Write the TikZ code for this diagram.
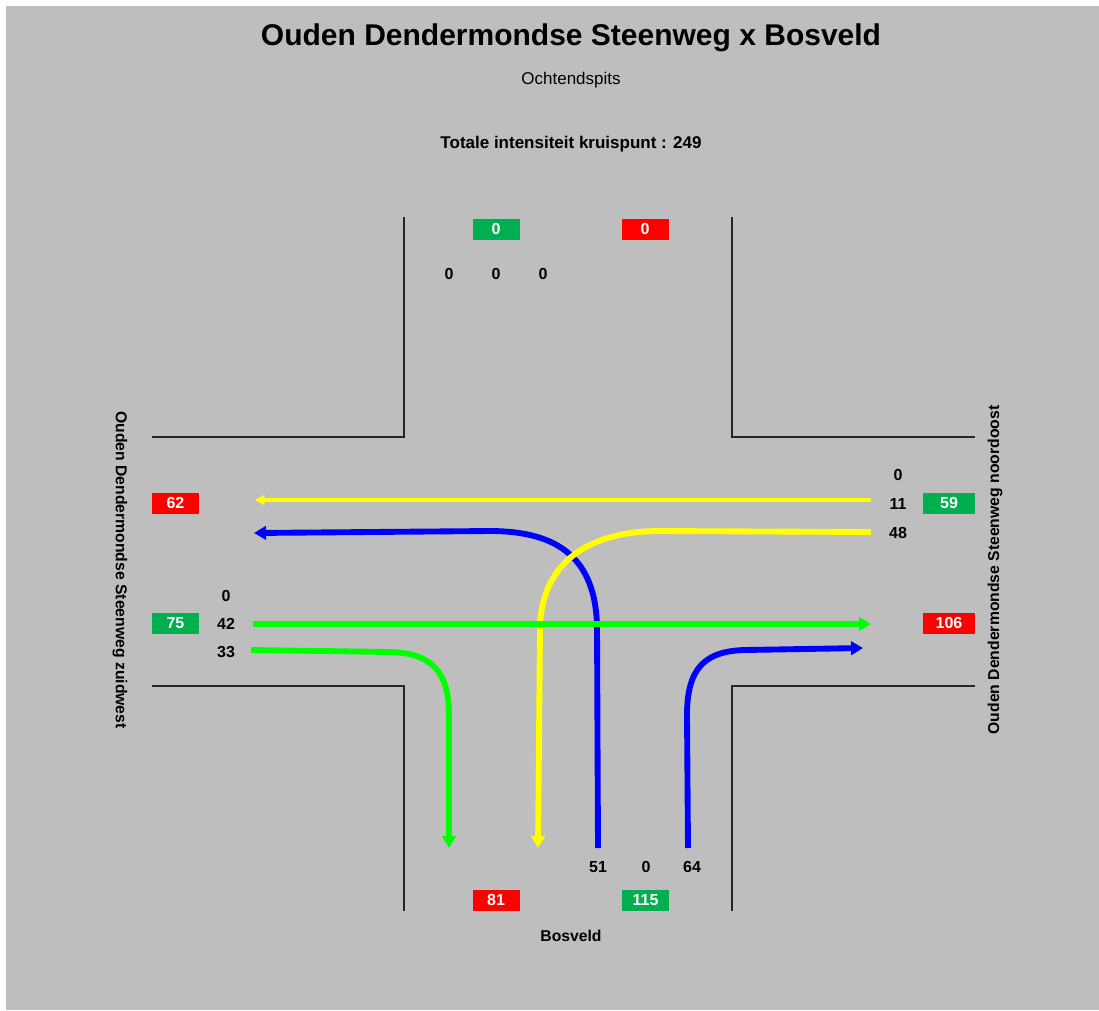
\documentclass[tikz,border=0pt]{standalone}
\usepackage{fontspec}
\setmainfont{Liberation Sans}
\usetikzlibrary{arrows.meta}
\definecolor{bg}{HTML}{BEBEBE}
\definecolor{boxgreen}{HTML}{00B050}
\definecolor{boxred}{HTML}{FF0000}
\definecolor{ayellow}{HTML}{FFFF00}
\definecolor{ablue}{HTML}{0000FF}
\definecolor{agreen}{HTML}{00FF00}
\tikzset{
  road/.style={draw=black!85, line width=1.1pt},
  flow/.style={line width=4.4pt, -{Triangle[length=9pt,width=10pt]}},
  thinflow/.style={line width=3.2pt, -{Triangle[length=7pt,width=7.5pt]}},
  num/.style={font=\fontsize{12}{14}\selectfont\bfseries, inner sep=0pt},
  lbl/.style={font=\fontsize{11.8}{14}\selectfont\bfseries, inner sep=0pt},
  cbox/.style={font=\fontsize{12}{14}\selectfont\bfseries, text=white, inner sep=0pt, minimum width=35.25pt, minimum height=15.75pt},
  gbox/.style={cbox, fill=boxgreen},
  rbox/.style={cbox, fill=boxred},
}
\begin{document}
\begin{tikzpicture}[x=0.75pt,y=-0.75pt]
\useasboundingbox (0,0) rectangle (1099,1010);
\fill[white] (0,0) rectangle (1099,1010);
\fill[bg] (6,6) rectangle (1099,1010);

% titles
\node[font=\fontsize{22.5}{26}\selectfont\bfseries, inner sep=0pt] (title) at (571,38) {Ouden Dendermondse Steenweg x Bosveld};
\node[font=\fontsize{12.75}{15}\selectfont, inner sep=0pt] (sub) at (571,80) {Ochtendspits};
\node[font=\fontsize{12.75}{15}\selectfont\bfseries, inner sep=0pt] (tot) at (571,144) {Totale intensiteit kruispunt : 249};

% road edges
\draw[road] (404,217) -- (404,437) -- (152,437);
\draw[road] (732,217) -- (732,437) -- (975,437);
\draw[road] (152,686) -- (404,686) -- (404,911);
\draw[road] (975,686) -- (732,686) -- (732,911);

% top
\node[gbox] (tg) at (496,229) {0};
\node[rbox] (tr) at (645,229) {0};
\node[num] (t1) at (449,274) {0};
\node[num] (t2) at (496,274) {0};
\node[num] (t3) at (543,274) {0};

% right
\node[num] (r1) at (898,475) {0};
\node[num] (r2) at (898,504) {11};
\node[num] (r3) at (898,533) {48};
\node[gbox, minimum width=39pt] (rg) at (949,503) {59};
\node[rbox, minimum width=39pt] (rr) at (949,623) {106};
\node[lbl, rotate=90] (rlab) at (995,570) {Ouden Dendermondse Steenweg noordoost};

% left
\node[rbox] (lr) at (175.5,503) {62};
\node[gbox] (lg) at (175.5,623) {75};
\node[num] (l1) at (226,596) {0};
\node[num] (l2) at (226,624) {42};
\node[num] (l3) at (226,652) {33};
\node[lbl, rotate=-90] (llab) at (120,570) {Ouden Dendermondse Steenweg zuidwest};

% bottom
\node[num] (b1) at (598,867) {51};
\node[num] (b2) at (646,867) {0};
\node[num] (b3) at (692,867) {64};
\node[rbox] (br) at (496,900) {81};
\node[gbox] (bg) at (645.5,900) {115};
\node[lbl] (blab) at (571,936) {Bosveld};

% flow endpoints
\coordinate (yS1) at (871,500);
\coordinate (yE1) at (255,500);
\coordinate (yS2) at (871,532);
\coordinate (yE2) at (538,848);
\coordinate (bS1) at (598,848);
\coordinate (bE1) at (254,533);
\coordinate (bS2) at (688,848);
\coordinate (bE2) at (863,648);
\coordinate (gS1) at (253,624);
\coordinate (gE1) at (871,624);
\coordinate (gS2) at (251,650);
\coordinate (gE2) at (449,848);

% flows
\draw[thinflow, ayellow] (yS1) -- (yE1);
\draw[flow, ablue] (bS1) -- (597,625) .. controls (595,560) and (560,531) .. (490,531) -- (bE1);
\draw[flow, ayellow] (yS2) -- (660,531) .. controls (580,531) and (540,570) .. (540,630) -- (yE2);
\draw[flow, agreen] (gS1) -- (gE1);
\draw[flow, agreen] (gS2) -- (390,652) .. controls (430,653) and (449,670) .. (449,715) -- (gE2);
\draw[flow, ablue] (bS2) -- (687,715) .. controls (687,668) and (705,651) .. (745,650) -- (bE2);
\end{tikzpicture}
\end{document}
